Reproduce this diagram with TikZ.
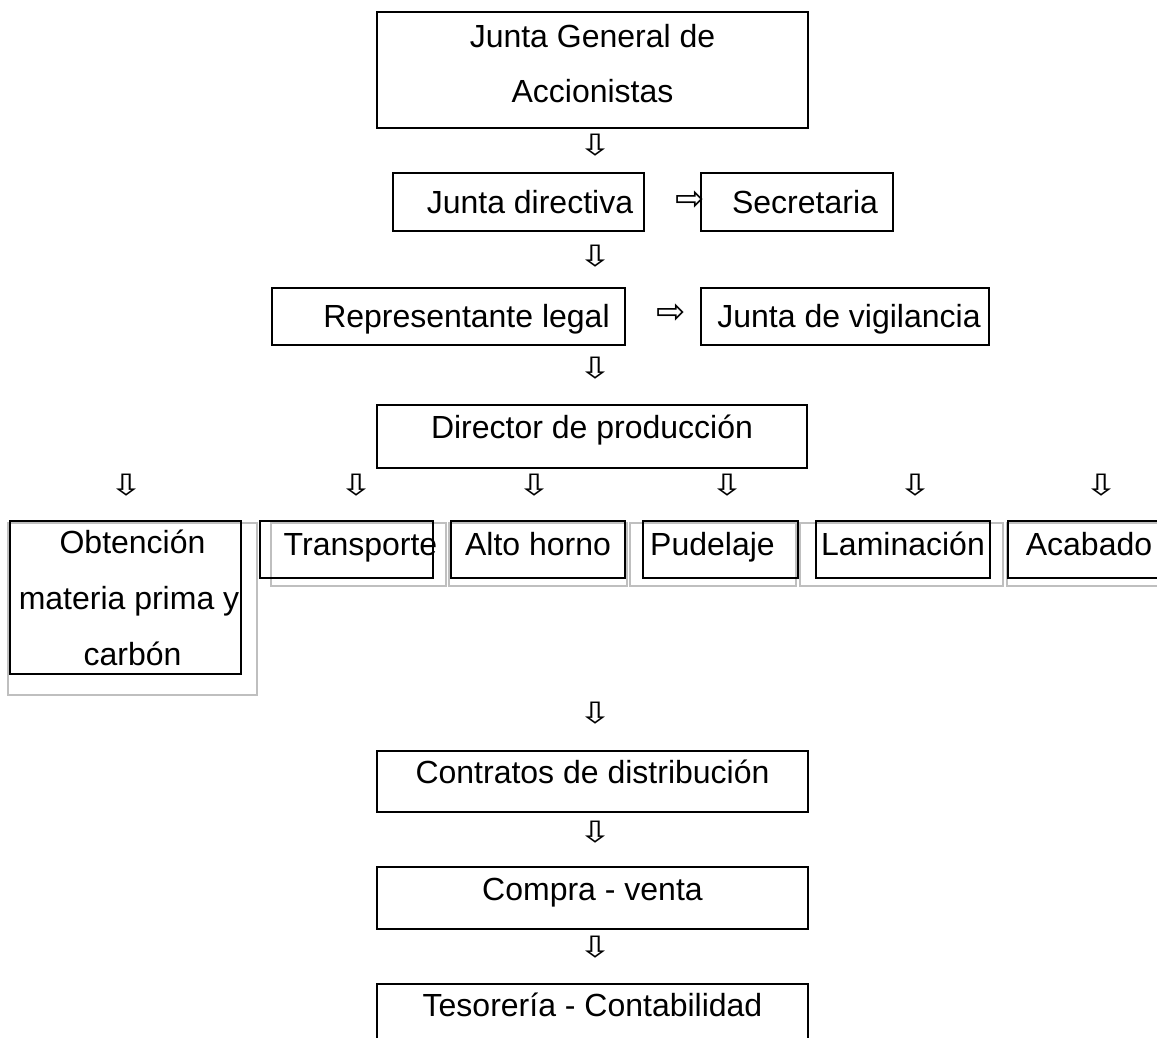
\documentclass[tikz,border=0pt]{standalone}
\usepackage{fontspec}
\usepackage{graphicx}
\setmainfont{Liberation Sans}
\newfontfamily\flechas{DejaVu Sans}
\tikzstyle{caja} = [rectangle, draw=black, line width=1.4pt, inner sep=0pt, align=center]
\tikzstyle{celda} = [draw=black!25, line width=0.9pt]
\tikzstyle{flecha} = [inner sep=0pt, font=\flechas\fontsize{21}{21}\selectfont]
\tikzset{tam/.style 2 args={minimum width=#1*0.75pt, minimum height=#2*0.75pt},
  renglon/.style={text height=18pt, text depth=#1}}
\newcommand{\corre}[2]{\hspace*{#1}#2\hspace*{-#1}}
\newcommand{\abajo}{\scalebox{1.45}[1.05]{⇩}}
\newcommand{\derecha}{\scalebox{1.25}{⇨}}

\begin{document}
\begin{tikzpicture}[x=0.75pt, y=-0.75pt, font=\fontsize{24}{41.5}\selectfont]
    \useasboundingbox (0,0) rectangle (1157,1038);

    \node (asamblea) [caja, tam={431}{116}, text depth=10pt] at (592.5,70) {Junta General de\\Accionistas};
    \node (f1) [flecha] at (596,145) {\abajo};
    \node (directiva) [caja, tam={251}{58}, renglon=0.75pt] at (518.5,202) {\corre{8.6pt}{Junta directiva}};
    \node (f2) [flecha] at (690,201) {\derecha};
    \node (secretaria) [caja, tam={192}{58}, renglon=0.75pt] at (797,202) {\corre{6pt}{Secretaria}};
    \node (f3) [flecha] at (596,256) {\abajo};
    \node (representante) [caja, tam={353}{57}, renglon=2.25pt] at (448.5,316.5) {\corre{13.5pt}{Representante legal}};
    \node (f4) [flecha] at (671,314) {\derecha};
    \node (vigilancia) [caja, tam={288}{57}, renglon=2.25pt] at (845,316.5) {\corre{3pt}{Junta de vigilancia}};
    \node (f5) [flecha] at (596,368) {\abajo};
    \node (director) [caja, tam={430}{63}, renglon=15.75pt] at (592,436.5) {Director de producción};
    \foreach \x [count=\i] in {127,357,535,728,915,1101}
        \node (fp\i) [flecha] at (\x,485) {\abajo};

    % celdas de la tabla
    \draw [celda] (8,523) rectangle (257,695);
    \foreach \a/\b in {271/446, 449/627, 630/796, 800/1003, 1007/1170}
        \draw [celda] (\a,523) rectangle (\b,586);

    \node (obtencion) [caja, tam={231}{153}, font=\fontsize{24}{42}\selectfont] at (125.5,597.5) {\corre{5.25pt}{Obtención}\\\corre{5.25pt}{materia prima y}\\\corre{5.25pt}{carbón}};
    \node (transporte) [caja, tam={173}{57}, renglon=9.75pt] at (346.5,549.5) {\corre{10.5pt}{Transporte}};
    \node (altohorno) [caja, tam={174}{57}, renglon=9.75pt] at (538,549.5) {Alto horno};
    \node (pudelaje) [caja, tam={155}{57}, renglon=9.75pt] at (720.5,549.5) {\corre{-6pt}{Pudelaje}};
    \node (laminacion) [caja, tam={174}{57}, renglon=9.75pt] at (903,549.5) {Laminación};
    \node (acabado) [caja, tam={162}{57}, renglon=9.75pt] at (1089,549.5) {Acabado};

    \node (f6) [flecha] at (596,713) {\abajo};
    \node (contratos) [caja, tam={431}{61}, renglon=15.75pt] at (592.5,781.5) {Contratos de distribución};
    \node (f7) [flecha] at (596,832) {\abajo};
    \node (compraventa) [caja, tam={431}{62}, renglon=15pt] at (592.5,898) {Compra - venta};
    \node (f8) [flecha] at (596,947) {\abajo};
    \node (tesoreria) [caja, tam={431}{62}, renglon=16pt] at (592.5,1015) {Tesorería - Contabilidad};
\end{tikzpicture}
\end{document}
